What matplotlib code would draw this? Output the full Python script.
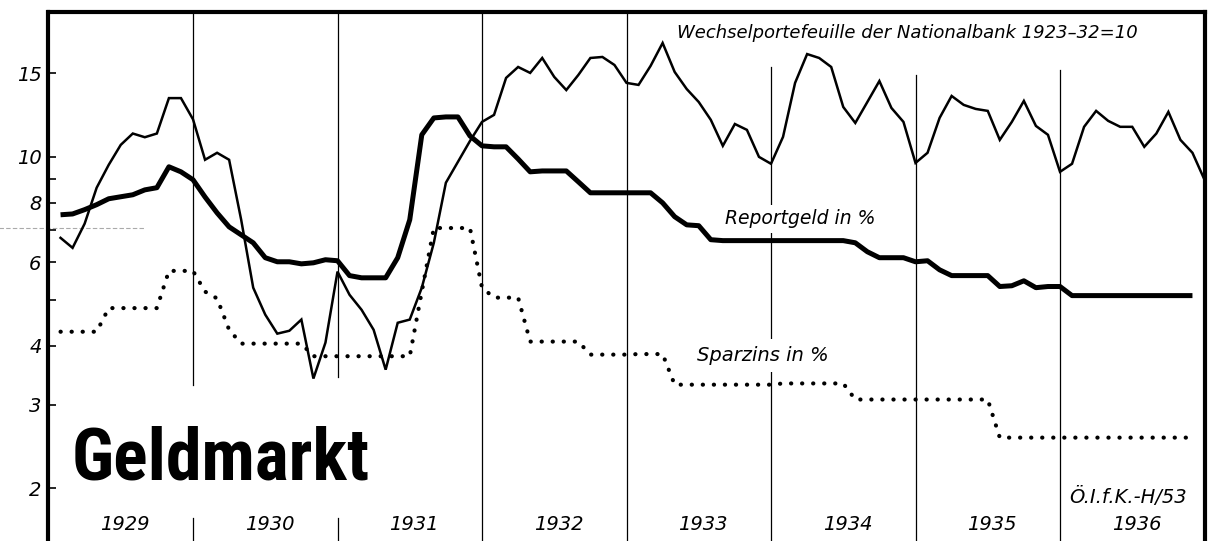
import numpy as np
import matplotlib
matplotlib.use("Agg")
import matplotlib.pyplot as plt
from matplotlib import font_manager
from matplotlib.ticker import FixedLocator, FixedFormatter, NullFormatter

plt.rcParams['font.family'] = ['DejaVu Sans']

# month-end values, Jan 1929 onward
# Wechselportefeuille der Nationalbank, 1923-32 = 10 (Jan 1929 - Dec 1936)
wechsel = [
    6.75, 6.43, 7.23, 8.61, 9.62, 10.6, 11.2, 11.0, 11.2, 13.3, 13.3, 12.0,    # 1929
    9.86, 10.2, 9.86, 7.37, 5.30, 4.65, 4.24, 4.30, 4.54, 3.41, 4.06, 5.73,    # 1930
    5.12, 4.76, 4.32, 3.56, 4.47, 4.54, 5.30, 6.59, 8.82, 9.76, 10.8, 11.85,   # 1931
    12.26, 14.67, 15.47, 15.03, 16.16, 14.74, 13.83, 14.88, 16.16, 16.24, 15.62, 14.32,  # 1932
    14.18, 15.55, 17.38, 15.1, 13.9, 13.05, 11.97, 10.55, 11.73, 11.4, 10.0, 9.67,       # 1933
    11.02, 14.32, 16.47, 16.16, 15.47, 12.74, 11.79, 13.05, 14.45, 12.68, 11.85, 9.71,   # 1934
    10.2, 12.08, 13.44, 12.87, 12.62, 12.5, 10.86, 11.85, 13.12, 11.62, 11.13, 9.30,     # 1935
    9.67, 11.57, 12.5, 11.91, 11.57, 11.57, 10.5, 11.2, 12.44, 10.86, 10.2, 8.95,        # 1936
]

# Reportgeld in % (Jan 1929 - Nov 1936)
reportgeld = [
    7.55, 7.58, 7.74, 7.93, 8.16, 8.24, 8.32, 8.52, 8.61, 9.53, 9.30, 8.95,
    8.23, 7.62, 7.12, 6.85, 6.59, 6.13, 6.01, 6.01, 5.95, 5.98, 6.07, 6.04,
    5.62, 5.56, 5.56, 5.56, 6.13, 7.37, 11.13, 12.08, 12.14, 12.14, 11.07, 10.55,
    10.5, 10.5, 9.9, 9.3, 9.34, 9.34, 9.34, 8.86, 8.40, 8.40, 8.40, 8.40,
    8.40, 8.40, 8.00, 7.48, 7.19, 7.16, 6.69, 6.66, 6.66, 6.66, 6.66, 6.66,
    6.66, 6.66, 6.66, 6.66, 6.66, 6.66, 6.59, 6.31, 6.13, 6.13, 6.13, 6.01,
    6.04, 5.78, 5.62, 5.62, 5.62, 5.62, 5.33, 5.35, 5.48, 5.30, 5.33, 5.33,
    5.10, 5.10, 5.10, 5.10, 5.10, 5.10, 5.10, 5.10, 5.10, 5.10, 5.10,
]

# Sparzins in % (Jan 1929 - Nov 1936)
sparzins = [
    4.28, 4.28, 4.28, 4.28, 4.8, 4.8, 4.8, 4.8, 4.8, 5.75, 5.75, 5.75,
    5.2, 5.03, 4.32, 4.04, 4.04, 4.04, 4.04, 4.04, 4.04, 3.8, 3.8, 3.8,
    3.8, 3.8, 3.8, 3.8, 3.8, 3.8, 5.2, 7.08, 7.08, 7.08, 7.08, 5.3,
    5.05, 5.05, 5.05, 4.08, 4.08, 4.08, 4.08, 4.08, 3.83, 3.83, 3.83, 3.83,
    3.84, 3.84, 3.84, 3.31, 3.31, 3.31, 3.31, 3.31, 3.31, 3.31, 3.31, 3.31,
    3.33, 3.33, 3.33, 3.33, 3.33, 3.33, 3.08, 3.08, 3.08, 3.08, 3.08, 3.08,
    3.08, 3.08, 3.08, 3.08, 3.08, 3.08, 2.56, 2.56, 2.56, 2.56, 2.56, 2.56,
    2.56, 2.56, 2.56, 2.56, 2.56, 2.56, 2.56, 2.56, 2.56, 2.56, 2.56,
]

years = [1929, 1930, 1931, 1932, 1933, 1934, 1935, 1936]
ytick_vals = [2, 3, 4, 6, 8, 10, 15]
ytick_labels = ['2', '3', '4', '6', '8', '10', '15']
yminor_vals = [5, 7, 9]


def month_x(values):
    return 1929 + (np.arange(len(values)) + 1) / 12.0


fig = plt.figure(figsize=(12.09, 5.41), dpi=100)
ax = fig.add_axes([48.5 / 1209, 0.0, (1204.5 - 48.5) / 1209, (541 - 12) / 541])
ax.set_yscale('log')
ax.set_xlim(1929, 1937)
ax.set_ylim(1.55, 20.2)

# year separators (some interrupted around the title and the top label)
seg = {
    1930: [(0.0, 0.043), (0.295, 1.0)],
    1931: [(0.0, 0.043), (0.31, 1.0)],
    1932: [(0.0, 1.0)],
    1933: [(0.0, 1.0)],
    1934: [(0.0, 0.896)],
    1935: [(0.0, 0.881)],
    1936: [(0.0, 0.89)],
}
for yr, parts in seg.items():
    for lo, hi in parts:
        ax.axvline(yr, ymin=lo, ymax=hi, color='black', lw=0.9, zorder=1)

ax.plot(month_x(wechsel), wechsel, color='black', lw=1.8, zorder=3,
        solid_joinstyle='miter')
ax.plot(month_x(reportgeld), reportgeld, color='black', lw=3.6, zorder=3,
        solid_joinstyle='round', solid_capstyle='butt')
ax.plot(month_x(sparzins), sparzins, color='black', lw=3.0, zorder=3,
        linestyle=(0, (0.05, 2.6)), dash_capstyle='round')

# faint scan line on the left
ax.plot([1928.66, 1929.67], [7.09, 7.09], color='#aaaaaa', lw=0.8,
        linestyle=(0, (4, 2)), clip_on=False, zorder=0)

# spines
for side in ['left', 'top', 'right']:
    ax.spines[side].set_linewidth(3.0)
ax.spines['bottom'].set_visible(False)

ax.yaxis.set_major_locator(FixedLocator(ytick_vals))
ax.yaxis.set_major_formatter(FixedFormatter(ytick_labels))
ax.yaxis.set_minor_locator(FixedLocator(yminor_vals))
ax.yaxis.set_minor_formatter(NullFormatter())
ax.tick_params(axis='y', which='both', direction='in', length=6, width=1.2,
               pad=5, labelsize=14)
for lab in ax.get_yticklabels():
    lab.set_fontstyle('italic')
ax.set_xticks([])

it = dict(style='italic', color='black', zorder=5)
ax.text(1933.35, 18.2, 'Wechselportefeuille der Nationalbank 1923\u201332=10',
        fontsize=13, ha='left', va='center', **it)
ax.text(1933.68, 7.40, 'Reportgeld in %', fontsize=13.5, ha='left', va='center',
        bbox=dict(facecolor='white', edgecolor='none', pad=3), **it)
ax.text(1933.49, 3.81, 'Sparzins in %', fontsize=14, ha='left', va='center',
        bbox=dict(facecolor='white', edgecolor='none', pad=5), **it)
ax.text(1936.88, 1.92, '\u00d6.I.f.K.-H/53', fontsize=14, ha='right', va='center', **it)
for yr in years:
    ax.text(yr + 0.53, 1.68, str(yr), fontsize=14, ha='center', va='center', **it)

# title in a narrow bold face
names = {f.name for f in font_manager.fontManager.ttflist}
narrow = next((n for n in ['Liberation Sans Narrow', 'DejaVu Sans Condensed',
                           'Roboto Condensed'] if n in names), None)
if narrow:
    title = ax.text(1929.16, 2.09, 'Geldmarkt', family=[narrow, 'DejaVu Sans'],
                    fontweight='bold', fontsize=54, ha='left', va='baseline', zorder=5)
else:
    title = ax.text(1929.16, 2.09, 'Geldmarkt', fontweight='bold', fontstretch='condensed',
                    fontsize=54, ha='left', va='baseline', zorder=5)
# fit the title width to the drawing
fig.canvas.draw()
w = title.get_window_extent().width
title.set_fontsize(54 * 298.0 / w)

fig.savefig('out.png', dpi=100)
